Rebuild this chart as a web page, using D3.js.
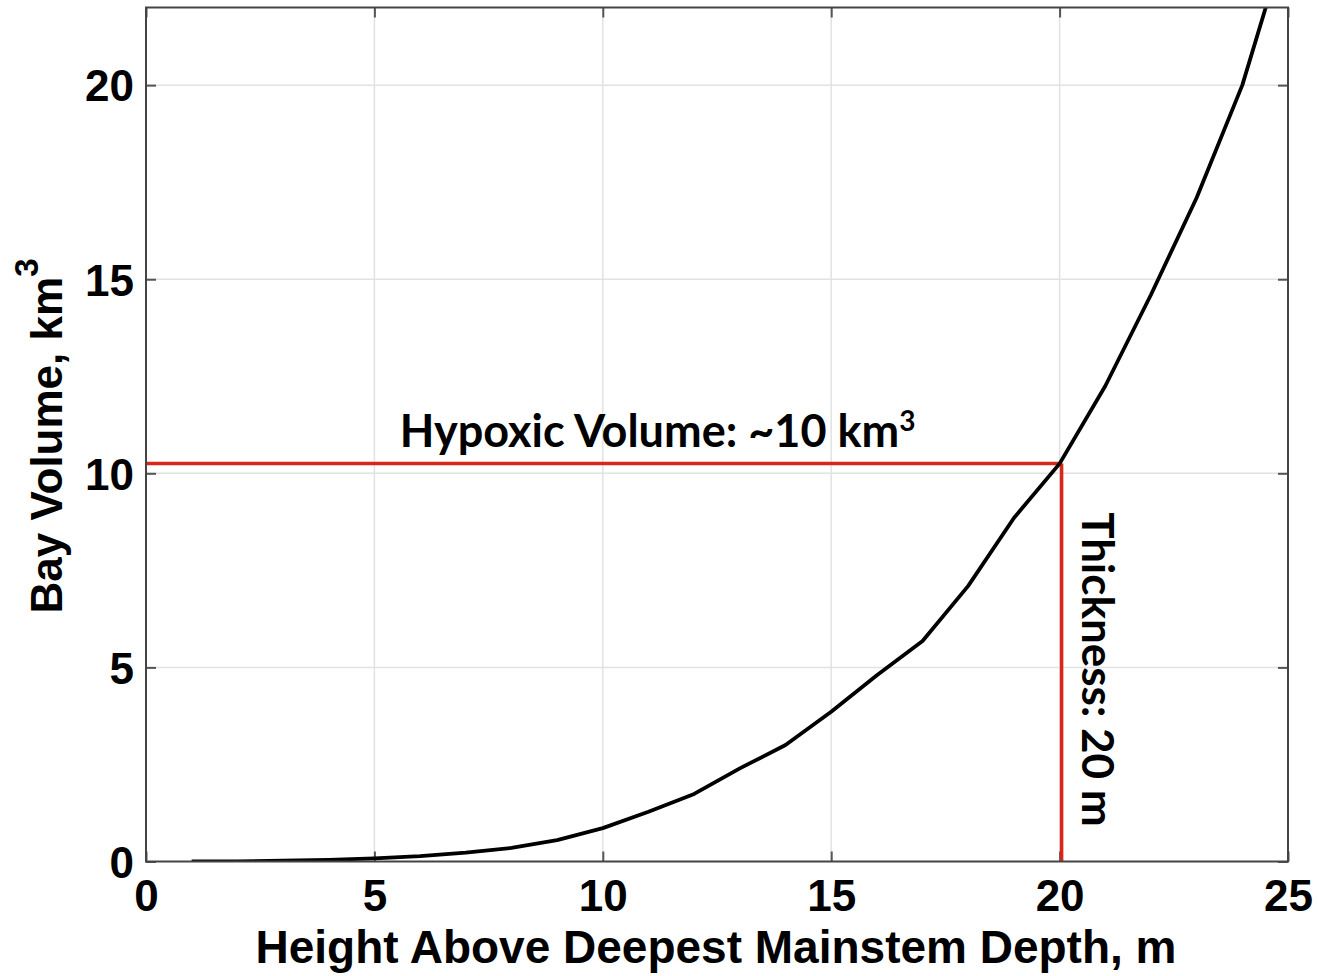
<!DOCTYPE html>
<html>
<head>
<meta charset="utf-8">
<script src="https://cdn.jsdelivr.net/npm/d3@7"></script>
<style>
  html, body { margin: 0; padding: 0; background: #fff; }
  svg { display: block; }
</style>
</head>
<body>
<svg id="chart" width="1318" height="976"></svg>
<script>
// Cumulative bay volume above the deepest mainstem point
const heights = [1, 2, 3, 4, 5, 6, 7, 8, 9, 10, 11, 12, 13, 14, 15, 16, 17, 18, 19, 20, 21, 22, 23, 24, 25];
const volumes = [0.0, 0.005, 0.02, 0.04, 0.08, 0.14, 0.23, 0.35, 0.55, 0.86, 1.28, 1.74, 2.4, 3.0, 3.86, 4.8, 5.68, 7.1, 8.85, 10.25, 12.25, 14.6, 17.1, 20.0, 23.9];

const xTicks = [0, 5, 10, 15, 20, 25];
const yTicks = [0, 5, 10, 15, 20];
const xDomain = [0, 25];
const yDomain = [0, 22];

// Hypoxic layer annotation
const hypoxicThickness = 20;
const hypoxicVolume = volumes[heights.indexOf(hypoxicThickness)];
const volumeLabel = "Hypoxic Volume: ~10 km";
const thicknessLabel = "Thickness: 20 m";

const margin = { left: 146, right: 30, top: 7.5, bottom: 114.5 };
const W = 1318, H = 976;
const innerW = W - margin.left - margin.right;
const innerH = H - margin.top - margin.bottom;

const svg = d3.select("#chart");
const g = svg.append("g").attr("transform", `translate(${margin.left},${margin.top})`);

const x = d3.scaleLinear().domain(xDomain).range([0, innerW]);
const y = d3.scaleLinear().domain(yDomain).range([innerH, 0]);

const tickFont = "'Liberation Sans', Arial, sans-serif";
const annFont = "Lato, 'Open Sans', sans-serif";

// grid
g.append("g").selectAll("line.gx").data(xTicks.filter(d => d > 0 && d < 25)).join("line")
  .attr("x1", d => x(d)).attr("x2", d => x(d)).attr("y1", 0).attr("y2", innerH)
  .attr("stroke", "#e2e2e2").attr("stroke-width", 1.5);
g.append("g").selectAll("line.gy").data(yTicks.filter(d => d > 0)).join("line")
  .attr("x1", 0).attr("x2", innerW).attr("y1", d => y(d)).attr("y2", d => y(d))
  .attr("stroke", "#e2e2e2").attr("stroke-width", 1.5);

// axes with inward ticks on all four sides
const tickLen = 10;
const axB = g.append("g").attr("transform", `translate(0,${innerH})`)
  .call(d3.axisBottom(x).tickValues(xTicks).tickSize(-tickLen).tickPadding(20).tickFormat(d3.format("d")));
const axL = g.append("g")
  .call(d3.axisLeft(y).tickValues(yTicks).tickSize(-tickLen).tickPadding(12).tickFormat(d3.format("d")));
const axT = g.append("g")
  .call(d3.axisTop(x).tickValues(xTicks).tickSize(-tickLen).tickFormat(""));
const axR = g.append("g").attr("transform", `translate(${innerW},0)`)
  .call(d3.axisRight(y).tickValues(yTicks).tickSize(-tickLen).tickFormat(""));

[axB, axL, axT, axR].forEach(a => {
  a.select(".domain").remove();
  a.selectAll(".tick line").attr("stroke", "#555").attr("stroke-width", 2);
  a.selectAll(".tick text").attr("fill", "#000")
    .style("font-family", tickFont).style("font-weight", "bold").style("font-size", "44px");
});
axB.selectAll(".tick text").attr("dy", "0.66em");
axL.selectAll(".tick text").attr("dy", "0.36em");

// red guide lines
g.append("line")
  .attr("x1", x(0)).attr("x2", x(hypoxicThickness) + 2)
  .attr("y1", y(hypoxicVolume)).attr("y2", y(hypoxicVolume))
  .attr("stroke", "#d8261a").attr("stroke-width", 3.5);
g.append("line")
  .attr("x1", x(hypoxicThickness) + 2).attr("x2", x(hypoxicThickness) + 2)
  .attr("y1", y(hypoxicVolume)).attr("y2", y(0))
  .attr("stroke", "#d8261a").attr("stroke-width", 3.5);

// curve
g.append("clipPath").attr("id", "plotClip").append("rect")
  .attr("width", innerW).attr("height", innerH);
const line = d3.line().x((d, i) => x(heights[i])).y(d => y(d));
g.append("path").datum(volumes)
  .attr("clip-path", "url(#plotClip)")
  .attr("d", line)
  .attr("fill", "none").attr("stroke", "#000").attr("stroke-width", 3.8)
  .attr("stroke-linejoin", "round");

// frame
g.append("rect").attr("width", innerW).attr("height", innerH)
  .attr("fill", "none").attr("stroke", "#444").attr("stroke-width", 2);

// annotations
const vt = g.append("text")
  .attr("x", x(11.2)).attr("y", y(hypoxicVolume) - 17)
  .attr("text-anchor", "middle")
  .style("font-family", annFont).style("font-weight", "bold").style("font-size", "45px")
  .attr("fill", "#000");
vt.append("tspan").text(volumeLabel);
vt.append("tspan").attr("dy", -16).style("font-size", "28px").text("3");

g.append("text")
  .attr("transform", `translate(${x(hypoxicThickness) + 22},${y(4.95)}) rotate(90)`)
  .attr("text-anchor", "middle")
  .style("font-family", annFont).style("font-weight", "bold").style("font-size", "44px")
  .attr("fill", "#000")
  .text(thicknessLabel);

// axis titles
svg.append("text")
  .attr("x", margin.left + innerW / 2 - 1).attr("y", 963)
  .attr("text-anchor", "middle")
  .style("font-family", tickFont).style("font-weight", "bold").style("font-size", "46px")
  .attr("fill", "#000")
  .text("Height Above Deepest Mainstem Depth, m");

const yt = svg.append("text")
  .attr("transform", `translate(62,${436}) rotate(-90)`)
  .attr("text-anchor", "middle")
  .style("font-family", tickFont).style("font-weight", "bold").style("font-size", "44px")
  .attr("fill", "#000");
yt.append("tspan").text("Bay Volume, km");
yt.append("tspan").attr("dy", -24).style("font-size", "33px").text("3");
</script>
</body>
</html>
